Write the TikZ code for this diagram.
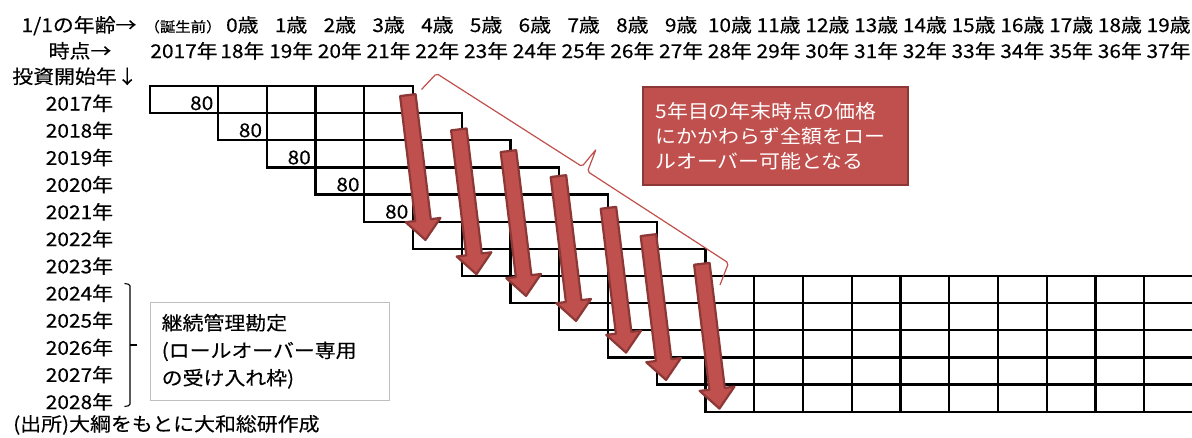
\documentclass[tikz,border=0pt]{standalone}
\usepackage{fontspec}
\setmainfont{Noto Sans CJK JP}[FakeStretch=1.1, FakeBold=0.25]
\newfontfamily\lightjp{Noto Sans CJK JP}[FakeStretch=1.1]
\definecolor{boxred}{HTML}{C0504D}
\definecolor{boxredline}{HTML}{8C3836}
\definecolor{graybox}{HTML}{BFBFBF}
\tikzset{
  lbl/.style={anchor=base, inner sep=0pt, font=\fontsize{19}{19}\selectfont},
  smalllbl/.style={anchor=base, inner sep=0pt, font=\fontsize{14}{14}\selectfont},
  rowlbl/.style={anchor=base east, inner sep=0pt, font=\fontsize{19}{19}\selectfont},
  celltxt/.style={anchor=base east, inner sep=0pt, font=\fontsize{19}{19}\selectfont},
  gridline/.style={line width=2.3pt, draw=black},
  blockarrow/.style={fill=boxred, draw=boxredline, line width=2.2pt, line join=round},
  redbrace/.style={draw=boxred, line width=1.2pt, rounded corners=2pt},
  blackbrace/.style={draw=black, line width=1.1pt, rounded corners=1.5pt},
  notebox/.style={draw=boxredline, fill=boxred, line width=2pt, text=white,
    align=left, text width=240pt, inner xsep=12.5pt, inner ysep=0pt,
    minimum width=265pt, minimum height=98pt,
    font=\lightjp\fontsize{19}{25}\selectfont},
  graynote/.style={draw=graybox, line width=1.1pt, fill=white, text=black,
    align=left, text width=216.6pt, inner xsep=11.2pt, inner ysep=0pt,
    minimum width=239pt, minimum height=98pt,
    font=\fontsize{19}{27.5}\selectfont},
  srctxt/.style={anchor=base west, inner sep=0pt, font=\fontsize{19}{19}\selectfont}
}
\newcommand{\redblockarrow}[2]{%
  \begin{scope}[shift={(#1,#2)}, x={(0.9927pt,0.1207pt)}, y={(0.1207pt,-0.9927pt)}]
    \filldraw[blockarrow] (-7.8,1.1) -- (-7.8,127) -- (-17.5,127) -- (0,147)
      -- (17.5,127) -- (7.8,127) -- (7.8,1.1) -- cycle;
  \end{scope}}
\begin{document}
\begin{tikzpicture}[x=1pt,y=-1pt]
\useasboundingbox (0,0) rectangle (1192,437);
\fill[white] (0,0) rectangle (1192,437);

% left header labels
\node[lbl] (hage) at (79,32) {1/1の年齢→};
\node[lbl] (hyear) at (80,58) {時点→};
\node[lbl] (hstart) at (75,83.5) {投資開始年↓};

% column headers
\node[smalllbl] (age0) at (183,32) {（誕生前）};
\node[lbl] (yr0) at (184,58) {2017年};
\foreach \j in {1,...,20} {
  \pgfmathsetmacro{\cx}{193.625+48.75*\j}
  \pgfmathtruncatemacro{\ag}{\j-1}
  \pgfmathtruncatemacro{\yy}{17+\j}
  \node[lbl] (age\j) at (\cx,32) {\ag 歳};
  \node[lbl] (yr\j) at (\cx,58) {\yy 年};
}

% row labels
\foreach \i in {0,...,11} {
  \pgfmathtruncatemacro{\yr}{2017+\i}
  \pgfmathsetmacro{\by}{110.5+27.14*\i}
  \node[rowlbl] (row\i) at (113.3,\by) {\yr 年};
}

% grid
\begin{scope}
\clip (0,0) rectangle (1192,437);
\foreach \i in {0,...,11} {
  \pgfmathsetmacro{\ya}{86+27.14*\i}
  \pgfmathsetmacro{\yb}{86+27.14*(\i+1)}
  \pgfmathtruncatemacro{\last}{\i<7 ? \i+4 : 20}
  \foreach \j in {\i,...,\last} {
    \pgfmathsetmacro{\xa}{\j==0 ? 150 : 169.25+48.75*\j}
    \pgfmathsetmacro{\xb}{169.25+48.75*(\j+1)}
    \draw[gridline] (\xa,\ya) rectangle (\xb,\yb);
  }
}
\end{scope}

% 80 values
\foreach \i in {0,...,4} {
  \pgfmathsetmacro{\vx}{169.25+48.75*(\i+1)-4.5}
  \pgfmathsetmacro{\vy}{110+27.14*\i}
  \node[celltxt] (val\i) at (\vx,\vy) {80};
}

% block arrows
\redblockarrow{407.7}{94}
\redblockarrow{458.7}{128.3}
\redblockarrow{508.3}{150}
\redblockarrow{558.3}{175}
\redblockarrow{608.3}{206.7}
\redblockarrow{648.3}{234}
\redblockarrow{701.7}{262.7}

% red brace
\coordinate (bs1) at (421.5,89.5);
\coordinate (bs2) at (436.5,73.5);
\coordinate (bm1) at (582,166.5);
\coordinate (bt) at (596,149.5);
\coordinate (bm2) at (587.5,171.5);
\coordinate (be2) at (728.5,263);
\coordinate (be1) at (720,285);
\draw[redbrace] (bs1) -- (bs2) -- (bm1) -- (bt) -- (bm2) -- (be2) -- (be1);

% red note
\node[notebox] (note) at (775.5,136) {5年目の年末時点の価格\\にかかわらず全額をロー\\ルオーバー可能となる};

% black brace for 2024-2028
\coordinate (k1) at (124.5,283.5);
\coordinate (k2) at (130,284.5);
\coordinate (k3) at (130,405.5);
\coordinate (k4) at (124.5,406.5);
\coordinate (km) at (130,345);
\coordinate (kt) at (136.5,345);
\draw[blackbrace] (k1) -- (k2) -- (k3) -- (k4);
\draw[blackbrace] (km) -- (kt);

% gray note
\node[graynote] (cont) at (270,351.3) {継続管理勘定\\(ロールオーバー専用\\の受け入れ枠)};

% source
\node[srctxt] (src) at (13,431) {(出所)大綱をもとに大和総研作成};
\end{tikzpicture}
\end{document}
